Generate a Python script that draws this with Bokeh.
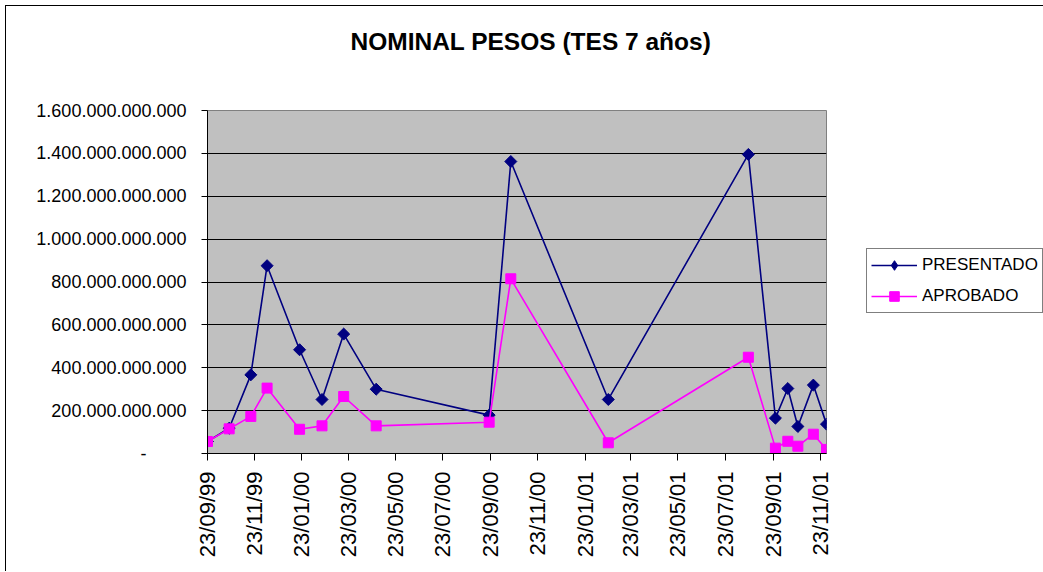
import math
import pandas as pd
from bokeh.plotting import figure
from bokeh.models import (Range1d, FixedTicker, DatetimeTickFormatter, Legend,
                          LegendItem, Title)
from bokeh.embed import file_html
from bokeh.resources import INLINE

# ---------------- data ----------------
dates = ["1999-09-23", "1999-10-21", "1999-11-18", "1999-12-09", "2000-01-20",
         "2000-02-18", "2000-03-17", "2000-04-28", "2000-09-21", "2000-10-19",
         "2001-02-22", "2001-08-22", "2001-09-26", "2001-10-12", "2001-10-25",
         "2001-11-14", "2001-12-01"]
presentado = [56e9, 118e9, 367e9, 876e9, 484e9, 252e9, 557e9, 300e9, 179e9,
              1362e9, 252e9, 1395e9, 165e9, 303e9, 126e9, 319e9, 137e9]
aprobado = [56e9, 115e9, 173e9, 305e9, 113e9, 129e9, 266e9, 129e9, 146e9,
            815e9, 50e9, 449e9, 25e9, 57e9, 34e9, 90e9, 19e9]

x_tick_labels = ["23/09/99", "23/11/99", "23/01/00", "23/03/00", "23/05/00",
                 "23/07/00", "23/09/00", "23/11/00", "23/01/01", "23/03/01",
                 "23/05/01", "23/07/01", "23/09/01", "23/11/01"]
y_ticks = [0, 200e9, 400e9, 600e9, 800e9, 1000e9, 1200e9, 1400e9, 1600e9]
y_tick_labels = ["-" + "\u00a0" * 8, "200.000.000.000", "400.000.000.000",
                 "600.000.000.000", "800.000.000.000", "1.000.000.000.000",
                 "1.200.000.000.000", "1.400.000.000.000", "1.600.000.000.000"]

title_text = "NOMINAL PESOS (TES 7 años)"
series_names = ["PRESENTADO", "APROBADO"]
FONT = "Liberation Sans"

# ---------------- figure ----------------
x = pd.to_datetime(dates)
x_ticks_ms = [pd.to_datetime(t, format="%d/%m/%y").value / 1e6 for t in x_tick_labels]

p = figure(x_axis_type="datetime", output_backend="svg", toolbar_location=None,
           title=None,
           frame_width=619, frame_height=343,
           min_border_left=201, min_border_right=216,
           min_border_top=104, min_border_bottom=118,
           x_range=Range1d(x.min(), x.max()), y_range=Range1d(0, 1600e9),
           background_fill_color="#C0C0C0", border_fill_color="white",
           styles={"border-top": "1px solid black", "border-left": "1px solid black",
                   "margin-left": "5px", "margin-top": "5px"})

# spacer title (closest to the frame) then the real title above it
p.add_layout(Title(text="\u00a0", text_font_size="1px", standoff=52), "above")
p.add_layout(Title(text=title_text, align="left", offset=143, standoff=2,
                   vertical_align="bottom", text_font=FONT,
                   text_font_size="24.5px", text_font_style="bold",
                   text_color="black"), "above")

p.outline_line_color = "#808080"
p.outline_line_width = 1

# grid
p.xgrid.grid_line_color = None
p.ygrid.ticker = FixedTicker(ticks=y_ticks)
p.ygrid.grid_line_color = "black"
p.ygrid.grid_line_width = 1

# y axis
p.yaxis.ticker = FixedTicker(ticks=y_ticks)
p.yaxis.major_label_overrides = {t: l for t, l in zip(y_ticks, y_tick_labels)}
p.yaxis.major_label_text_font = FONT
p.yaxis.major_label_text_font_size = "18px"
p.yaxis.major_label_text_color = "black"
p.yaxis.axis_line_color = "black"
p.yaxis.major_tick_line_color = "black"
p.yaxis.major_tick_in = 0
p.yaxis.major_tick_out = 6
p.yaxis.minor_tick_line_color = None
p.yaxis.major_label_standoff = 15

# x axis
p.xaxis.ticker = FixedTicker(ticks=x_ticks_ms)
fmt = "%d/%m/%y"
p.xaxis.formatter = DatetimeTickFormatter(
    microseconds=fmt, milliseconds=fmt, seconds=fmt, minsec=fmt, minutes=fmt,
    hourmin=fmt, hours=fmt, days=fmt, months=fmt, years=fmt)
p.xaxis.major_label_orientation = math.pi / 2
p.xaxis.major_label_text_font = FONT
p.xaxis.major_label_text_font_size = "22px"
p.xaxis.major_label_text_color = "black"
p.xaxis.axis_line_color = "black"
p.xaxis.major_tick_line_color = "black"
p.xaxis.major_tick_in = 0
p.xaxis.major_tick_out = 7
p.xaxis.minor_tick_line_color = None
p.xaxis.major_label_standoff = 11

# series
l1 = p.line(x, presentado, line_color="#000080", line_width=1.6)
# diamond glyph used for the legend swatch (hidden under the plot markers)
d1 = p.scatter(x, presentado, marker="diamond", size=8,
               fill_color="#000080", line_color="#000080")
s1 = p.scatter(x, presentado, marker="square", angle=math.pi / 4, size=8.5,
               fill_color="#000080", line_color="#000080")
l2 = p.line(x, aprobado, line_color="#FF00FF", line_width=1.6)
s2 = p.scatter(x, aprobado, marker="square", size=10,
               fill_color="#FF00FF", line_color="#FF00FF")

# legend (in the right panel)
lg = Legend(items=[LegendItem(label=series_names[0], renderers=[l1, d1]),
                   LegendItem(label=series_names[1], renderers=[l2, s2])],
            location=(40, 140), orientation="vertical",
            border_line_color="black", border_line_width=1,
            background_fill_color="white", background_fill_alpha=1,
            label_text_font=FONT, label_text_font_size="17px",
            label_text_color="black", glyph_width=46, glyph_height=24,
            label_height=24, label_standoff=5, spacing=7, padding=4, margin=0)
p.add_layout(lg, "right")

open("out.html", "w").write(file_html(p, INLINE))
